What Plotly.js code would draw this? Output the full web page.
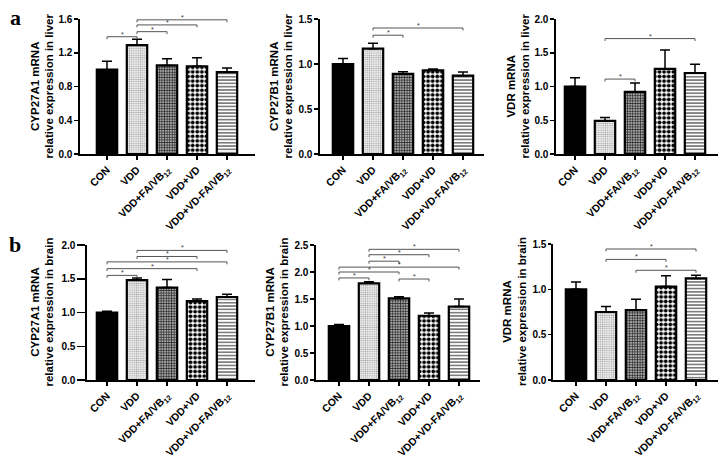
<!DOCTYPE html>
<html>
<head>
<meta charset="utf-8">
<script src="https://cdn.plot.ly/plotly-3.0.1.min.js"></script>
<style>html,body{margin:0;padding:0;background:#fff;}#chart{width:720px;height:458px;}</style>
</head>
<body>
<div id="chart"></div>
<script>
// ---- data ----
const groups = ['CON', 'VDD', 'VDD+FA/VB<sub>12</sub>', 'VDD+VD', 'VDD+VD-FA/VB<sub>12</sub>'];

const cyp27a1LiverMean = [1.00, 1.29, 1.05, 1.04, 0.97];
const cyp27a1LiverErr  = [0.10, 0.07, 0.08, 0.10, 0.05];
const cyp27a1LiverSig  = [[0, 1, 1.39], [1, 2, 1.45], [1, 3, 1.53], [1, 4, 1.59]];

const cyp27b1LiverMean = [1.00, 1.17, 0.89, 0.93, 0.87];
const cyp27b1LiverErr  = [0.06, 0.06, 0.025, 0.015, 0.04];
const cyp27b1LiverSig  = [[1, 2, 1.32], [1, 4, 1.40]];

const vdrLiverMean = [1.00, 0.49, 0.92, 1.26, 1.20];
const vdrLiverErr  = [0.13, 0.05, 0.13, 0.28, 0.13];
const vdrLiverSig  = [[1, 2, 1.11], [1, 4, 1.71]];

const cyp27a1BrainMean = [1.00, 1.48, 1.37, 1.17, 1.23];
const cyp27a1BrainErr  = [0.02, 0.03, 0.12, 0.03, 0.04];
const cyp27a1BrainSig  = [[0, 1, 1.55], [0, 3, 1.65], [0, 4, 1.75], [1, 3, 1.83], [1, 4, 1.92]];

const cyp27b1BrainMean = [1.00, 1.79, 1.51, 1.19, 1.36];
const cyp27b1BrainErr  = [0.03, 0.03, 0.03, 0.05, 0.14];
const cyp27b1BrainSig  = [[0, 1, 1.89], [2, 3, 1.87], [0, 2, 2.00], [0, 4, 2.09], [1, 2, 2.20], [1, 3, 2.32], [1, 4, 2.42]];

const vdrBrainMean = [1.00, 0.75, 0.77, 1.03, 1.12];
const vdrBrainErr  = [0.08, 0.06, 0.12, 0.12, 0.035];
const vdrBrainSig  = [[1, 4, 1.445], [1, 3, 1.33], [2, 4, 1.21]];

const titles = [
  'CYP27A1 mRNA<br>relative expression in liver',
  'CYP27B1 mRNA<br>relative expression in liver',
  'VDR mRNA<br>relative expression in liver',
  'CYP27A1 mRNA<br>relative expression in brain',
  'CYP27B1 mRNA<br>relative expression in brain',
  'VDR mRNA<br>relative expression in brain'
];
const yMax  = [1.6, 1.5, 2.0, 2.0, 2.5, 1.5];
const yStep = [0.4, 0.5, 0.5, 0.5, 0.5, 0.5];

// ---- layout geometry (pixels) ----
const W = 720, H = 458;
const boxes = [
  {l: 80,  r: 255, t: 19,  b: 154, cx: 107, tx: 42,  tl: 4},
  {l: 320, r: 484, t: 19,  b: 154, cx: 343, tx: 281, tl: 4},
  {l: 556, r: 718, t: 19,  b: 154, cx: 575, tx: 518, tl: 4},
  {l: 87,  r: 255, t: 245, b: 380, cx: 107, tx: 42,  tl: 8},
  {l: 316, r: 480, t: 245, b: 380, cx: 339, tx: 277, tl: 4},
  {l: 553, r: 718, t: 244, b: 380, cx: 576, tx: 514, tl: 3}
];

const panels = [
  [cyp27a1LiverMean, cyp27a1LiverErr, cyp27a1LiverSig],
  [cyp27b1LiverMean, cyp27b1LiverErr, cyp27b1LiverSig],
  [vdrLiverMean, vdrLiverErr, vdrLiverSig],
  [cyp27a1BrainMean, cyp27a1BrainErr, cyp27a1BrainSig],
  [cyp27b1BrainMean, cyp27b1BrainErr, cyp27b1BrainSig],
  [vdrBrainMean, vdrBrainErr, vdrBrainSig]
];

// bar styling per group
const styles = [
  {color: '#000000', pattern: {shape: ''}},
  {color: '#ffffff', pattern: {shape: '.', fgcolor: '#a0a0a0', bgcolor: '#f4f4f4', size: 2.2, solidity: 0.4}},
  {color: '#ffffff', pattern: {shape: '+', fgcolor: '#222222', bgcolor: '#a8a8a8', size: 2.6, solidity: 0.45}},
  {color: '#ffffff', pattern: {shape: '.', fgcolor: '#000000', bgcolor: '#ffffff', size: 4.6, solidity: 0.55}},
  {color: '#ffffff', pattern: {shape: '-', fgcolor: '#3a3a3a', bgcolor: '#ffffff', size: 3.3, solidity: 0.33}}
];

const font = 'Liberation Sans, Arial, sans-serif';
const traces = [];
const layout = {
  width: W, height: H,
  margin: {l: 0, r: 0, t: 0, b: 0},
  paper_bgcolor: '#fff', plot_bgcolor: 'rgba(0,0,0,0)',
  showlegend: false, barmode: 'overlay',
  font: {family: font, color: '#000'},
  annotations: []
};

const xs = groups.map((g, i) => i);

panels.forEach((p, k) => {
  const [mean, err, sig] = p;
  const sfx = k === 0 ? '' : String(k + 1);
  const xa = 'x' + sfx, ya = 'y' + sfx;
  const bx = boxes[k];
  const pxPerUnit = 30;
  const x0 = -(bx.cx - bx.l) / pxPerUnit;
  const x1 = (bx.r - bx.cx) / pxPerUnit;

  xs.forEach((xv, i) => {
    traces.push({
      type: 'bar', x: [xv], y: [mean[i]], xaxis: xa, yaxis: ya, width: 0.68,
      marker: {color: styles[i].color, line: {color: '#000', width: 2.2}, pattern: styles[i].pattern},
      error_y: {type: 'data', symmetric: false, array: [err[i]], arrayminus: [0],
                color: '#000', thickness: 1.5, width: 5},
      hoverinfo: 'skip'
    });
  });

  const tickH = yMax[k] * 0.018;
  const bxX = [], bxY = [];
  sig.forEach(s => {
    const [i, j, h] = s;
    bxX.push(xs[i], xs[i], xs[j], xs[j], null);
    bxY.push(h - tickH, h, h, h - tickH, null);
    layout.annotations.push({
      xref: xa, yref: ya, x: (xs[i] + xs[j]) / 2, y: h, text: '*', showarrow: false,
      font: {size: 7, color: '#333', family: font}, yanchor: 'bottom', yshift: -3
    });
  });
  traces.push({
    type: 'scatter', mode: 'lines', x: bxX, y: bxY, xaxis: xa, yaxis: ya,
    line: {color: '#555', width: 1}, cliponaxis: false, hoverinfo: 'skip'
  });

  layout['xaxis' + sfx] = {
    domain: [bx.l / W, bx.r / W], anchor: ya, range: [x0, x1],
    tickmode: 'array', tickvals: xs, ticktext: groups, tickangle: -45,
    showline: true, linecolor: '#000', linewidth: 1.6,
    ticks: 'outside', ticklen: 4, tickwidth: 1.5, tickcolor: '#000',
    showgrid: false, zeroline: false, fixedrange: true,
    tickfont: {size: 10.5, family: font, weight: 'bold', color: '#000'}
  };
  layout['yaxis' + sfx] = {
    domain: [1 - bx.b / H, 1 - bx.t / H], anchor: xa, range: [0, yMax[k]],
    tick0: 0, dtick: yStep[k], tickformat: '.1f',
    showline: true, linecolor: '#000', linewidth: 1.6,
    ticks: 'outside', ticklen: bx.tl, tickwidth: 1.5, tickcolor: '#000',
    showgrid: false, zeroline: false, fixedrange: true,
    tickfont: {size: 10, family: font, weight: 'bold', color: '#000'}
  };
  layout.annotations.push({
    xref: 'paper', yref: 'paper', x: bx.tx / W, y: 1 - (bx.t + bx.b) / 2 / H,
    text: '<b>' + titles[k].replace('<br>', '</b><br><b>') + '</b>', showarrow: false, textangle: -90,
    xanchor: 'center', yanchor: 'middle',
    font: {size: 11.5, family: font, color: '#000'}
  });
});

layout.annotations.push(
  {xref: 'paper', yref: 'paper', x: 15 / W, y: 1 - 18 / H, text: '<b>a</b>', showarrow: false,
   font: {size: 22, family: 'Liberation Serif, Times New Roman, serif', color: '#000'}, xanchor: 'center', yanchor: 'middle'},
  {xref: 'paper', yref: 'paper', x: 15 / W, y: 1 - 244 / H, text: '<b>b</b>', showarrow: false,
   font: {size: 22, family: 'Liberation Serif, Times New Roman, serif', color: '#000'}, xanchor: 'center', yanchor: 'middle'}
);

Plotly.newPlot('chart', traces, layout, {staticPlot: true, displayModeBar: false});
</script>
</body>
</html>
